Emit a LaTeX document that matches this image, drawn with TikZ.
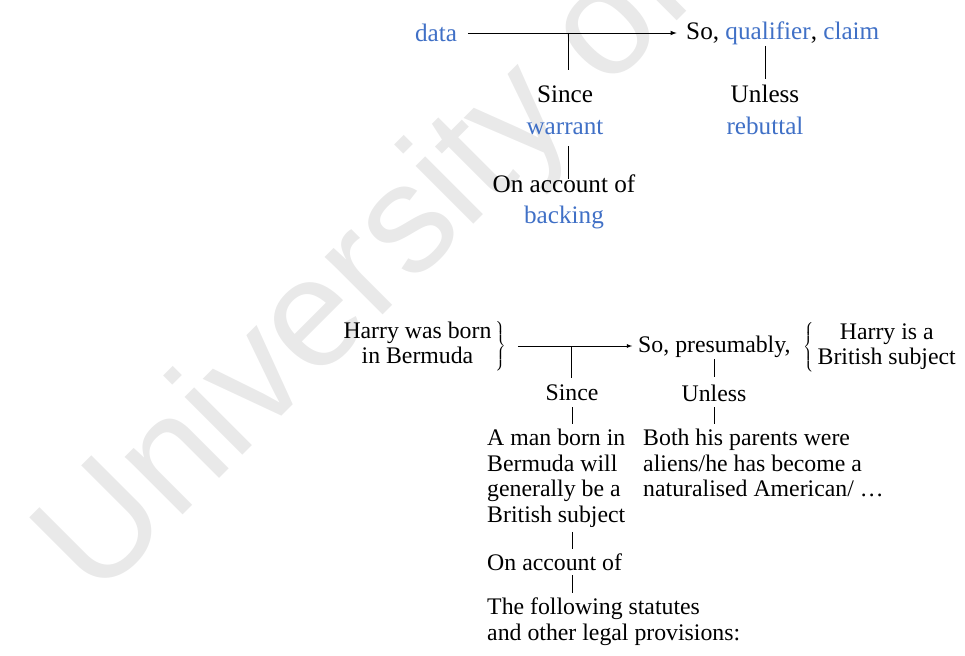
\documentclass[tikz,border=0pt]{standalone}
\usepackage{fontspec}
\setmainfont{Liberation Serif}
\newfontfamily\wmfont{Liberation Sans}
\definecolor{termblue}{RGB}{64,112,198}
\definecolor{wmgray}{RGB}{233,233,233}

\tikzset{
  big/.style={font=\fontsize{21.5}{27}\selectfont, inner sep=0pt, align=center},
  small/.style={font=\fontsize{20.3}{21.7}\selectfont, inner sep=0pt},
  link/.style={line width=0.8pt},
  thinlink/.style={line width=0.6pt},
  wm/.style={font=\wmfont\fontsize{132}{132}\selectfont, text=wmgray, inner sep=0pt}
}

\begin{document}
\begin{tikzpicture}[x=0.03cm,y=-0.03cm]
	\useasboundingbox (0,0) rectangle (965,656);
	% watermark
	\begin{scope}
		\clip (0,0) rectangle (965,656);
		\node[wm, rotate=45, anchor=base west] (mark) at (96,602) {University of};
	\end{scope}

	% Toulmin scheme
	\node[big, text=termblue] (data) at (436,33) {data};
	\node[big, anchor=west] (claim) at (686,33) {So, \textcolor{termblue}{qualifier}, \textcolor{termblue}{claim}};
	\node[big] (warrant) at (565,110) {Since\\\textcolor{termblue}{warrant}};
	\node[big] (rebuttal) at (765,110) {Unless\\\textcolor{termblue}{rebuttal}};
	\node[big] (backing) at (564,202) {On account of\\\textcolor{termblue}{backing}};
	\coordinate (dj) at (568,33);

	\draw[link,-latex,shorten <=9pt,shorten >=8pt] (data.east) -- (data.east -| claim.west);
	\draw[link,shorten >=13pt] (dj) -- (dj |- warrant.north);
	\draw[link,shorten <=1pt,shorten >=5pt] (rebuttal.north |- claim.south) -- (rebuttal.north);
	\draw[link,shorten <=10pt,shorten >=-4pt] (warrant.south -| dj) -- (dj |- backing.north);

	% example
	\node[small] (born) at (424,346) {$\left.\begin{tabular}{@{}c@{}}Harry was born\\in Bermuda\end{tabular}\,\right\}$};
	\node[small, anchor=west] (pres) at (638,347) {So, presumably,};
	\node[small, anchor=west] (subject) at (803,347) {$\left\{\,\begin{tabular}{@{}c@{}}Harry is a\\British subject\end{tabular}\right.$};
	\node[small] (since) at (572,393) {Since};
	\node[small] (unless) at (714,393) {Unless};
	\node[small, anchor=north west, align=left] (man) at (487,429) {A man born in\\Bermuda will\\generally be a\\British subject};
	\node[small, anchor=north west, align=left] (parents) at (643,429) {Both his parents were\\aliens/he has become a\\naturalised American/ \dots};
	\node[small, anchor=west] (account) at (487,562) {On account of};
	\node[small, anchor=north west, align=left] (statutes) at (487,598) {The following statutes\\and other legal provisions:};
	\coordinate (ej) at (571,347);

	\draw[thinlink,-latex,shorten <=10pt,shorten >=5pt] (born.east) -- (born.east -| pres.west);
	\draw[thinlink,shorten >=6pt] (ej) -- (ej |- since.north);
	\draw[thinlink,shorten <=1pt,shorten >=6pt] (unless.north |- pres.south) -- (unless.north);
	\draw[thinlink,shorten <=5pt,shorten >=4pt] (since.south) -- (since.south |- man.north);
	\draw[thinlink,shorten <=5pt,shorten >=4pt] (unless.south) -- (unless.south |- parents.north);
	\draw[thinlink,shorten <=4pt,shorten >=4pt] (since.south |- man.south) -- (since.south |- account.north);
	\draw[thinlink,shorten <=4pt,shorten >=4pt] (since.south |- account.south) -- (since.south |- statutes.north);
\end{tikzpicture}
\end{document}
